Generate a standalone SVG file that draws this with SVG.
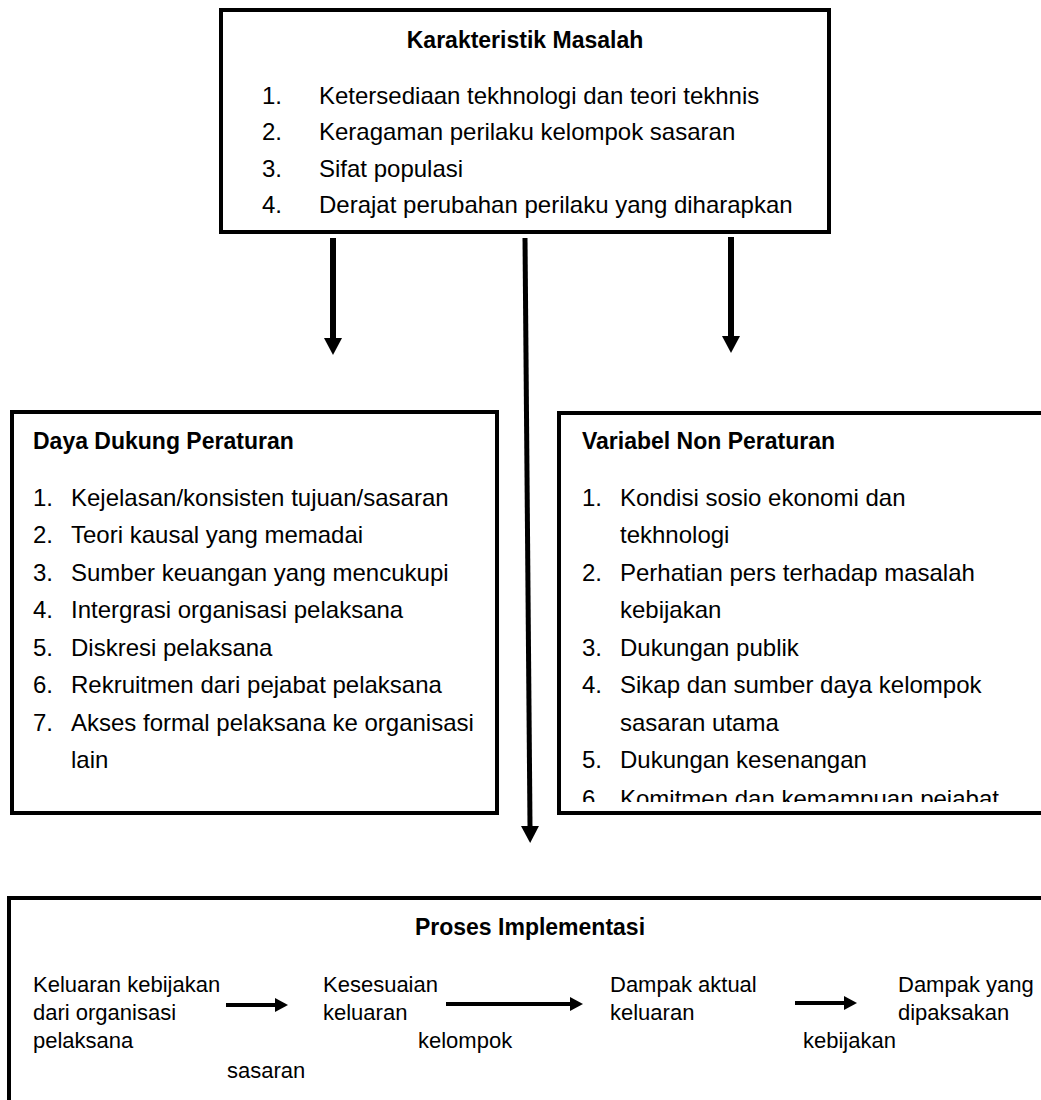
<svg xmlns="http://www.w3.org/2000/svg" width="1041" height="1100" viewBox="0 0 1041 1100">
<style>
.box{fill:#fff;stroke:#000;stroke-width:4}
.t{font-family:"Liberation Sans",Arial,sans-serif;font-size:24px;fill:#000}
.b{font-family:"Liberation Sans",Arial,sans-serif;font-size:23px;font-weight:bold;fill:#000}
.s{font-family:"Liberation Sans",Arial,sans-serif;font-size:22px;fill:#000}
.c{stroke:#000;fill:none}
</style>
<defs>
<marker id="ah" markerUnits="userSpaceOnUse" markerWidth="18" markerHeight="18" viewBox="0 0 18 18" refX="0" refY="9" orient="auto"><path d="M0,0 L17,9 L0,18 z" fill="#000"/></marker>
<marker id="ahs" markerUnits="userSpaceOnUse" markerWidth="14" markerHeight="14" viewBox="0 0 14 14" refX="0" refY="7" orient="auto"><path d="M0,0 L13,7 L0,14 z" fill="#000"/></marker>
<clipPath id="clipR"><rect x="560" y="415" width="481" height="387"/></clipPath>
</defs>
<rect width="1041" height="1100" fill="#fff"/>

<g id="karakteristik">
<rect class="box" x="221" y="10" width="608" height="222"/>
<text class="b" x="525" y="48" text-anchor="middle">Karakteristik Masalah</text>
<text class="t" x="262" y="104">1.</text><text class="t" x="319" y="104">Ketersediaan tekhnologi dan teori tekhnis</text>
<text class="t" x="262" y="140">2.</text><text class="t" x="319" y="140">Keragaman perilaku kelompok sasaran</text>
<text class="t" x="262" y="177">3.</text><text class="t" x="319" y="177">Sifat populasi</text>
<text class="t" x="262" y="213">4.</text><text class="t" x="319" y="213">Derajat perubahan perilaku yang diharapkan</text>
</g>

<g id="daya-dukung">
<rect class="box" x="12" y="412" width="485" height="401"/>
<text class="b" x="33" y="449">Daya Dukung Peraturan</text>
<text class="t" x="33" y="506">1.</text><text class="t" x="71" y="506">Kejelasan/konsisten tujuan/sasaran</text>
<text class="t" x="33" y="543">2.</text><text class="t" x="71" y="543">Teori kausal yang memadai</text>
<text class="t" x="33" y="581">3.</text><text class="t" x="71" y="581">Sumber keuangan yang mencukupi</text>
<text class="t" x="33" y="618">4.</text><text class="t" x="71" y="618">Intergrasi organisasi pelaksana</text>
<text class="t" x="33" y="656">5.</text><text class="t" x="71" y="656">Diskresi pelaksana</text>
<text class="t" x="33" y="693">6.</text><text class="t" x="71" y="693">Rekruitmen dari pejabat pelaksana</text>
<text class="t" x="33" y="731">7.</text><text class="t" x="71" y="731">Akses formal pelaksana ke organisasi</text>
<text class="t" x="71" y="768">lain</text>
</g>

<g id="non-peraturan">
<rect class="box" x="559" y="413" width="520" height="400"/>
<text class="b" x="582" y="449">Variabel Non Peraturan</text>
<text class="t" x="582" y="506">1.</text><text class="t" x="620" y="506">Kondisi sosio ekonomi dan</text>
<text class="t" x="620" y="543">tekhnologi</text>
<text class="t" x="582" y="581">2.</text><text class="t" x="620" y="581">Perhatian pers terhadap masalah</text>
<text class="t" x="620" y="618">kebijakan</text>
<text class="t" x="582" y="656">3.</text><text class="t" x="620" y="656">Dukungan publik</text>
<text class="t" x="582" y="693">4.</text><text class="t" x="620" y="693">Sikap dan sumber daya kelompok</text>
<text class="t" x="620" y="731">sasaran utama</text>
<text class="t" x="582" y="768">5.</text><text class="t" x="620" y="768">Dukungan kesenangan</text>
<g clip-path="url(#clipR)"><text class="t" x="582" y="807">6.</text><text class="t" x="620" y="807">Komitmen dan kemampuan pejabat</text></g>
</g>

<g id="proses-implementasi">
<rect class="box" x="9" y="898" width="1100" height="300"/>
<text class="b" x="530" y="935" text-anchor="middle">Proses Implementasi</text>
<text class="s" x="33" y="992">Keluaran kebijakan</text>
<text class="s" x="33" y="1020">dari organisasi</text>
<text class="s" x="33" y="1048">pelaksana</text>
<text class="s" x="227" y="1078">sasaran</text>
<text class="s" x="323" y="992">Kesesuaian</text>
<text class="s" x="323" y="1020">keluaran</text>
<text class="s" x="418" y="1048">kelompok</text>
<text class="s" x="610" y="992">Dampak aktual</text>
<text class="s" x="610" y="1020">keluaran</text>
<text class="s" x="803" y="1048">kebijakan</text>
<text class="s" x="898" y="992">Dampak yang</text>
<text class="s" x="898" y="1020">dipaksakan</text>
</g>

<g id="connectors">
<line class="c" x1="333" y1="238" x2="333" y2="338" stroke-width="6" marker-end="url(#ah)"/>
<line class="c" x1="525" y1="238" x2="530" y2="826" stroke-width="5" marker-end="url(#ah)"/>
<line class="c" x1="731" y1="237" x2="731" y2="336" stroke-width="6" marker-end="url(#ah)"/>
<line class="c" x1="226" y1="1005" x2="275" y2="1005" stroke-width="4" marker-end="url(#ahs)"/>
<line class="c" x1="446" y1="1004" x2="570" y2="1004" stroke-width="4" marker-end="url(#ahs)"/>
<line class="c" x1="795" y1="1003" x2="844" y2="1003" stroke-width="4" marker-end="url(#ahs)"/>
</g>
</svg>
